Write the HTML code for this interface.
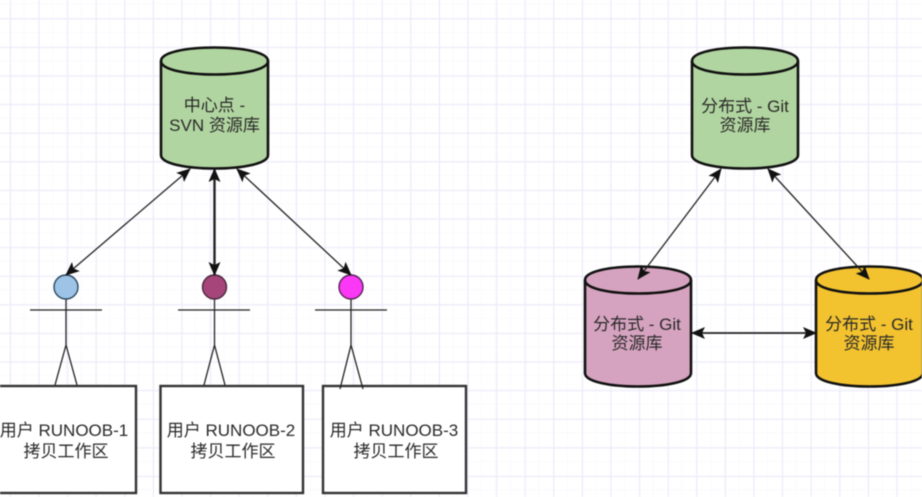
<!DOCTYPE html>
<html><head><meta charset="utf-8">
<style>
html,body{margin:0;padding:0;background:#fff;}
body{width:922px;height:497px;overflow:hidden;}
svg{display:block;filter:blur(0.6px);}
text{font-family:"Liberation Sans","Noto Sans CJK SC",sans-serif;font-size:17px;text-anchor:middle;fill:#2a2a2a;}
</style></head><body>
<svg width="922" height="497" viewBox="0 0 922 497" xmlns="http://www.w3.org/2000/svg">
<defs>
<pattern id="minor" width="14.3" height="14.3" patternUnits="userSpaceOnUse" x="-4.3" y="4">
<path d="M14.3 0V14.3M0 14.3H14.3" fill="none" stroke="#f6f5fc" stroke-width="1"/>
</pattern>
<pattern id="major" width="28.6" height="28.6" patternUnits="userSpaceOnUse" x="10" y="18.5">
<path d="M0.5 0V28.6M0 0.5H28.6" fill="none" stroke="#eceaf9" stroke-width="1"/>
</pattern>
<marker id="ah" viewBox="0 0 14 12" refX="13" refY="6" markerWidth="14" markerHeight="12" markerUnits="userSpaceOnUse" orient="auto-start-reverse">
<path d="M0 0L14 6L0 12L3 6Z" fill="#111"/>
</marker>
</defs>
<rect width="922" height="497" fill="#fff"/>
<rect width="922" height="497" fill="url(#minor)"/>
<rect width="922" height="497" fill="url(#major)"/>

<g stroke="#111" stroke-width="2.6" stroke-linejoin="round">
<path d="M161 61C161 43 268 43 268 61V155C268 173 161 173 161 155Z" fill="#b1d5a0"/>
<path d="M161 61C161 79 268 79 268 61" fill="none"/>
<path d="M692 61C692 43 798 43 798 61V155C798 173 692 173 692 155Z" fill="#b1d5a0"/>
<path d="M692 61C692 79 798 79 798 61" fill="none"/>
<path d="M585 280C585 262 691 262 691 280V373C691 391 585 391 585 373Z" fill="#d5a3bf"/>
<path d="M585 280C585 298 691 298 691 280" fill="none"/>
<path d="M816 280C816 262 923 262 923 280V373C923 391 816 391 816 373Z" fill="#f2c22f"/>
<path d="M816 280C816 298 923 298 923 280" fill="none"/>
</g>

<g fill="#fff" stroke="#333" stroke-width="2.400">
<rect x="-5" y="386" width="141" height="107"/>
<rect x="160.500" y="386" width="142.500" height="107"/>
<rect x="323" y="386" width="143" height="107"/>
</g>

<g stroke="#222" stroke-width="1.3" fill="none">
<path d="M30 310H102M66 299V345L55 385M66 345L77 385"/>
<path d="M178 310H250M214.500 299V345L204 385M214.500 345L225 385"/>
<path d="M315 310H387M351 299V345L340 389M351 345L363 389"/>
</g>
<circle cx="66" cy="287" r="12" fill="#9dc3e6" stroke="#2b4a60" stroke-width="1.400"/>
<circle cx="214.500" cy="287" r="12" fill="#a5457a" stroke="#4a2a3c" stroke-width="1.400"/>
<circle cx="351" cy="287" r="12" fill="#fb38f5" stroke="#5a2458" stroke-width="1.400"/>

<g stroke="#222" fill="none">
<line x1="190" y1="169" x2="66" y2="275" stroke-width="1.300" marker-start="url(#ah)" marker-end="url(#ah)"/>
<line x1="214.500" y1="169" x2="214.500" y2="275" stroke-width="2.400" marker-start="url(#ah)" marker-end="url(#ah)"/>
<line x1="237" y1="169" x2="351" y2="275" stroke-width="1.300" marker-start="url(#ah)" marker-end="url(#ah)"/>
<line x1="721" y1="169" x2="638" y2="279" stroke-width="1.300" marker-start="url(#ah)" marker-end="url(#ah)"/>
<line x1="768" y1="169" x2="869" y2="279" stroke-width="1.300" marker-start="url(#ah)" marker-end="url(#ah)"/>
<line x1="692" y1="333" x2="816" y2="333" stroke-width="1.800" marker-start="url(#ah)" marker-end="url(#ah)"/>
</g>

<text x="214.500" y="111">中心点 -</text>
<text x="214.500" y="131">SVN 资源库</text>
<text x="745" y="112">分布式 - Git</text>
<text x="745" y="131">资源库</text>
<text x="637" y="330">分布式 - Git</text>
<text x="637" y="349">资源库</text>
<text x="869" y="330">分布式 - Git</text>
<text x="869" y="349">资源库</text>
<text x="64" y="436">用户 RUNOOB-1</text>
<text x="66" y="457">拷贝工作区</text>
<text x="231" y="436">用户 RUNOOB-2</text>
<text x="233" y="457">拷贝工作区</text>
<text x="394" y="436">用户 RUNOOB-3</text>
<text x="396" y="457">拷贝工作区</text>
</svg>
</body></html>
